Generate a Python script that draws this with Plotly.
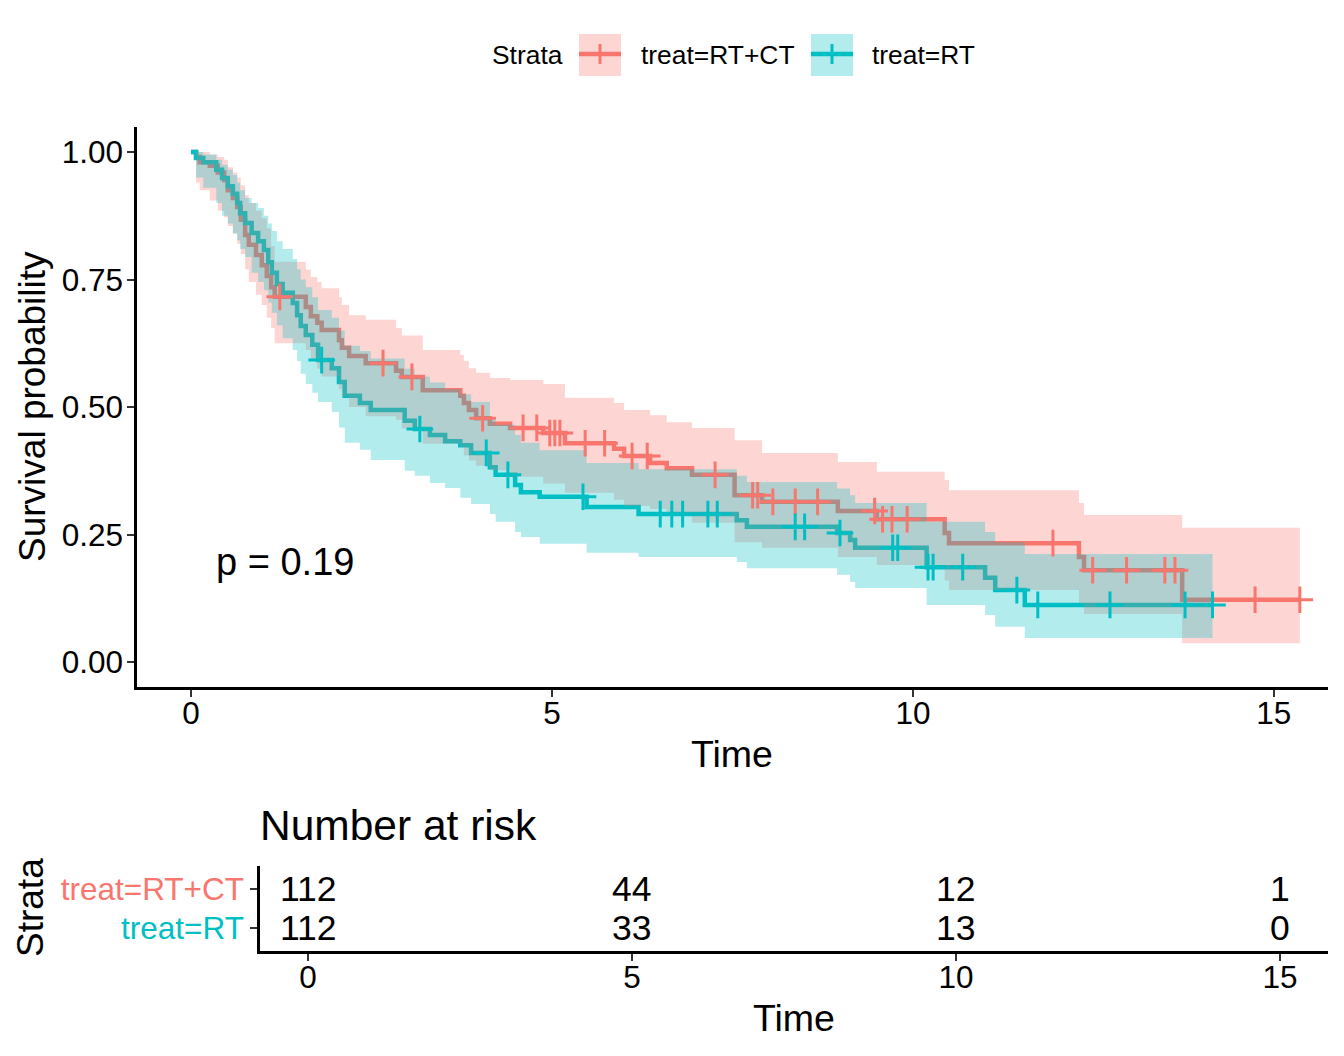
import numpy as np
import plotly.graph_objects as go

RED = "#F8766D"
TEAL = "#00BFC4"
FONT = "Liberation Sans, Arial, Helvetica, sans-serif"

# ---------------- data ----------------
strata = ["treat=RT+CT", "treat=RT"]

rtct_time = [0, 0.07, 0.12, 0.26, 0.37, 0.46, 0.51, 0.58, 0.64, 0.69, 0.75, 0.80, 0.90, 0.98,
             1.05, 1.11, 1.16, 1.59, 1.66, 1.75, 1.81, 2.05, 2.09, 2.19, 2.42, 2.84, 2.92, 3.21,
             3.73, 3.78, 3.85, 3.95, 4.14, 4.42, 4.88, 5.18, 5.86, 6.00, 6.36, 6.59, 6.94, 7.53,
             7.91, 8.96, 9.50, 10.44, 10.50, 12.30, 12.37, 13.73]
rtct_surv = [1.000, 0.990, 0.980, 0.973, 0.960, 0.945, 0.925, 0.910, 0.892, 0.867, 0.837, 0.818,
             0.798, 0.778, 0.757, 0.735, 0.716, 0.696, 0.678, 0.665, 0.651, 0.631, 0.616, 0.600,
             0.586, 0.571, 0.559, 0.533, 0.522, 0.508, 0.494, 0.478, 0.467, 0.459, 0.449, 0.429,
             0.418, 0.404, 0.390, 0.380, 0.367, 0.327, 0.314, 0.296, 0.280, 0.253, 0.233, 0.206,
             0.180, 0.122]
rtct_lower = [1.0, 0.940, 0.925, 0.905, 0.885, 0.872, 0.855, 0.84, 0.82, 0.80, 0.77, 0.745, 0.72,
              0.70, 0.675, 0.655, 0.625, 0.612, 0.59, 0.575, 0.56, 0.535, 0.52, 0.50, 0.482, 0.475,
              0.458, 0.428, 0.422, 0.405, 0.395, 0.385, 0.376, 0.363, 0.350, 0.332, 0.318, 0.306,
              0.300, 0.29, 0.273, 0.235, 0.224, 0.206, 0.19, 0.16, 0.141, 0.115, 0.094, 0.037]
rtct_upper = [1.0, 1.0, 1.0, 0.995, 0.99, 0.985, 0.97, 0.96, 0.95, 0.935, 0.915, 0.90, 0.885,
              0.87, 0.85, 0.815, 0.785, 0.769, 0.755, 0.745, 0.733, 0.715, 0.70, 0.68, 0.671,
              0.655, 0.640, 0.612, 0.602, 0.59, 0.576, 0.567, 0.557, 0.553, 0.545, 0.518, 0.508,
              0.494, 0.484, 0.47, 0.459, 0.435, 0.41, 0.392, 0.373, 0.357, 0.337, 0.312, 0.288,
              0.263]
rtct_censor = [1.23, 2.66, 3.06, 4.04, 4.60, 4.79, 4.97, 5.04, 5.11, 5.46, 5.73, 6.11, 6.32, 7.26,
               7.78, 7.85, 8.06, 8.37, 8.68, 9.47, 9.58, 9.71, 9.92, 11.94, 12.49, 12.96, 13.49,
               13.63, 14.74, 15.36]

rt_time = [0, 0.07, 0.17, 0.35, 0.43, 0.51, 0.58, 0.64, 0.68, 0.75, 0.84, 0.93, 1.01, 1.07, 1.12,
           1.19, 1.27, 1.41, 1.47, 1.52, 1.59, 1.68, 1.76, 1.95, 2.05, 2.13, 2.34, 2.49, 2.96,
           3.10, 3.31, 3.52, 3.73, 3.88, 4.14, 4.22, 4.49, 4.57, 4.83, 5.48, 6.20, 7.56, 7.70,
           8.95, 9.13, 9.20, 10.19, 11.00, 11.14, 11.55]
rt_surv = [1.0, 0.988, 0.980, 0.965, 0.949, 0.933, 0.918, 0.900, 0.880, 0.861, 0.841, 0.825,
           0.808, 0.784, 0.763, 0.741, 0.724, 0.704, 0.680, 0.659, 0.641, 0.622, 0.592, 0.576,
           0.549, 0.522, 0.508, 0.494, 0.473, 0.457, 0.445, 0.433, 0.425, 0.410, 0.382, 0.367,
           0.347, 0.333, 0.324, 0.304, 0.290, 0.278, 0.265, 0.253, 0.239, 0.224, 0.186, 0.165,
           0.141, 0.112]
rt_lower = [1.0, 0.95, 0.93, 0.90, 0.875, 0.86, 0.84, 0.827, 0.81, 0.794, 0.763, 0.745, 0.729,
            0.705, 0.685, 0.66, 0.635, 0.612, 0.59, 0.565, 0.545, 0.528, 0.51, 0.49, 0.46, 0.43,
            0.416, 0.396, 0.375, 0.365, 0.351, 0.341, 0.322, 0.31, 0.29, 0.275, 0.255, 0.245,
            0.232, 0.214, 0.206, 0.196, 0.184, 0.171, 0.157, 0.145, 0.112, 0.092, 0.069, 0.047]
rt_upper = [1.0, 1.0, 0.995, 0.985, 0.975, 0.965, 0.955, 0.94, 0.925, 0.91, 0.90, 0.89, 0.875,
            0.86, 0.845, 0.825, 0.81, 0.79, 0.77, 0.75, 0.735, 0.715, 0.69, 0.675, 0.65, 0.62,
            0.61, 0.595, 0.575, 0.56, 0.548, 0.535, 0.525, 0.51, 0.48, 0.465, 0.445, 0.43, 0.415,
            0.39, 0.378, 0.365, 0.353, 0.34, 0.327, 0.312, 0.275, 0.255, 0.235, 0.212]
rt_censor = [1.81, 3.17, 4.09, 4.39, 5.43, 6.50, 6.66, 6.81, 7.16, 7.29, 8.37, 8.50, 8.99, 9.72,
             9.79, 10.21, 10.28, 10.69, 11.44, 11.73, 12.73, 13.77, 14.15]

risk_times = [0, 5, 10, 15]
risk_rtct = [112, 44, 12, 1]
risk_rt = [112, 33, 13, 0]

p_text = "p = 0.19"
surv_ticks = [0, 0.25, 0.5, 0.75, 1.0]
surv_ticktext = ["0.00", "0.25", "0.50", "0.75", "1.00"]
time_ticks = [0, 5, 10, 15]

# ---------------- helpers ----------------
def extend(times, vals, end):
    return list(times) + [end], list(vals) + [vals[-1]]


def surv_at(times, surv, ts):
    idx = np.searchsorted(np.array(times), np.array(ts), side="right") - 1
    return list(np.array(surv)[idx])


def rgba(hexc, a):
    h = hexc.lstrip("#")
    return "rgba(%d,%d,%d,%.2f)" % (int(h[0:2], 16), int(h[2:4], 16), int(h[4:6], 16), a)


groups = [
    (RED, rtct_time, rtct_surv, rtct_lower, rtct_upper, rtct_censor),
    (TEAL, rt_time, rt_surv, rt_lower, rt_upper, rt_censor),
]

fig = go.Figure()

# survival lines
for col, t, s, lo, up, cen in groups:
    end = max(cen)
    x, y = extend(t, s, end)
    fig.add_trace(go.Scatter(x=x, y=y, mode="lines", line=dict(color=col, width=4.5, shape="hv"),
                             showlegend=False, hoverinfo="skip"))

# confidence ribbons (drawn on top of the lines, as in the reference)
for col, t, s, lo, up, cen in groups:
    end = max(cen)
    xl, yl = extend(t, lo, end)
    xu, yu = extend(t, up, end)
    fig.add_trace(go.Scatter(x=xl, y=yl, mode="lines", line=dict(width=0, shape="hv"),
                             showlegend=False, hoverinfo="skip"))
    fig.add_trace(go.Scatter(x=xu, y=yu, mode="lines", line=dict(width=0, shape="hv"),
                             fill="tonexty", fillcolor=rgba(col, 0.3),
                             showlegend=False, hoverinfo="skip"))

# censor marks
for col, t, s, lo, up, cen in groups:
    fig.add_trace(go.Scatter(x=cen, y=surv_at(t, s, cen), mode="markers",
                             marker=dict(symbol="cross-thin", size=19,
                                         line=dict(color=col, width=3)),
                             showlegend=False, hoverinfo="skip"))

# invisible anchor trace so the risk-table axes are drawn
fig.add_trace(go.Scatter(x=risk_times, y=[1] * len(risk_times), mode="markers",
                         marker=dict(opacity=0), xaxis="x2", yaxis="y2",
                         showlegend=False, hoverinfo="skip"))

W, H = 1344, 1056
OFF = 8  # page body margin offset


def px(x):
    return (x - OFF) / W


def py(y):
    return 1 - (y - OFF) / H


axis_common = dict(showline=True, linecolor="black", linewidth=2.5, ticks="outside",
                   ticklen=7, tickwidth=2, tickcolor="#333333", showgrid=False, zeroline=False,
                   tickfont=dict(size=31.5, color="black", family=FONT))

fig.update_layout(
    width=W, height=H,
    margin=dict(l=0, r=0, t=0, b=0),
    paper_bgcolor="white", plot_bgcolor="white",
    font=dict(family=FONT, color="black"),
    xaxis=dict(domain=[px(137), px(1328)], range=[-0.748, 15.75], anchor="y",
               tickvals=time_ticks, ticklabelstandoff=-11, **axis_common),
    yaxis=dict(domain=[py(687), py(127)], range=[-0.049, 1.049], anchor="x",
               tickvals=surv_ticks, ticktext=surv_ticktext, ticklabelstandoff=-2, **axis_common),
    xaxis2=dict(domain=[px(260), px(1328)], range=[-0.741, 15.74], anchor="y2",
                tickvals=time_ticks, ticklabelstandoff=-11, **axis_common),
    yaxis2=dict(domain=[py(951), py(866)], range=[0.418, 2.595], anchor="x2",
                tickvals=[2, 1],
                ticktext=['<span style="color:%s">%s</span>' % (RED, strata[0]),
                          '<span style="color:%s">%s</span>' % (TEAL, strata[1])],
                ticklabelstandoff=0, **axis_common),
)

ann = []
# risk table numbers, placed through the risk-table axes
for row, vals in ((2, risk_rtct), (1, risk_rt)):
    for tx, v in zip(risk_times, vals):
        ann.append(dict(x=tx, y=row, xref="x2", yref="y2", text=str(v), showarrow=False,
                        xanchor="center", yanchor="middle",
                        font=dict(size=35.5, color="black", family=FONT)))

ann.append(dict(x=0.319, y=0.196, xref="x", yref="y", text=p_text, showarrow=False,
                xanchor="left", yanchor="middle", font=dict(size=38, color="black")))
ann.append(dict(x=px(32), y=py(407), xref="paper", yref="paper", text="Survival probability",
                textangle=-90, showarrow=False, xanchor="center", yanchor="middle",
                font=dict(size=37, color="black")))
ann.append(dict(x=px(732), y=py(754), xref="paper", yref="paper", text="Time", showarrow=False,
                xanchor="center", yanchor="middle", font=dict(size=37.5, color="black")))
ann.append(dict(x=px(258), y=py(825), xref="paper", yref="paper", text="Number at risk",
                showarrow=False, xanchor="left", yanchor="middle",
                font=dict(size=42.5, color="black")))
ann.append(dict(x=px(30), y=py(908), xref="paper", yref="paper", text="Strata", textangle=-90,
                showarrow=False, xanchor="center", yanchor="middle",
                font=dict(size=37, color="black")))
ann.append(dict(x=px(794), y=py(1018), xref="paper", yref="paper", text="Time", showarrow=False,
                xanchor="center", yanchor="middle", font=dict(size=37.5, color="black")))
# legend (manual)
ann.append(dict(x=px(490), y=py(55), xref="paper", yref="paper", text="Strata", showarrow=False,
                xanchor="left", yanchor="middle", font=dict(size=26.4, color="black")))
ann.append(dict(x=px(639), y=py(55), xref="paper", yref="paper", text=strata[0], showarrow=False,
                xanchor="left", yanchor="middle", font=dict(size=26.4, color="black")))
ann.append(dict(x=px(870), y=py(55), xref="paper", yref="paper", text=strata[1], showarrow=False,
                xanchor="left", yanchor="middle", font=dict(size=26.4, color="black")))

shapes = []
for x0, col in ((579, RED), (811, TEAL)):
    shapes.append(dict(type="rect", xref="paper", yref="paper", x0=px(x0), x1=px(x0 + 42),
                       y0=py(76), y1=py(34), fillcolor=rgba(col, 0.3), line=dict(width=0)))
    shapes.append(dict(type="line", xref="paper", yref="paper", x0=px(x0), x1=px(x0 + 42),
                       y0=py(54), y1=py(54), line=dict(color=col, width=4.5)))
    shapes.append(dict(type="line", xref="paper", yref="paper", x0=px(x0 + 21), x1=px(x0 + 21),
                       y0=py(44), y1=py(64), line=dict(color=col, width=3)))

fig.update_layout(annotations=ann, shapes=shapes)

fig.write_html("out.html")
